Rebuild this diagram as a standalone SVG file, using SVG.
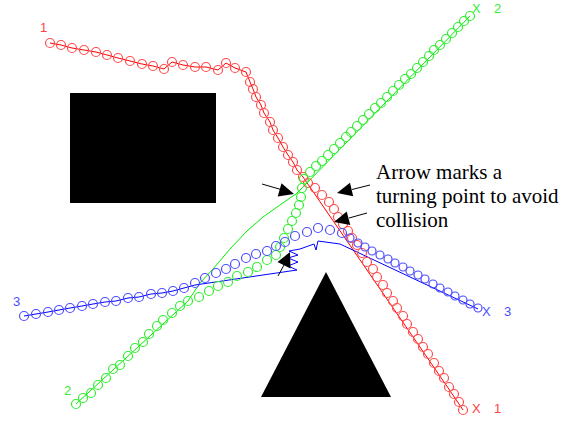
<svg xmlns="http://www.w3.org/2000/svg" width="588" height="421" viewBox="0 0 588 421">
<style>
.bg{fill:#fff}
.obs{fill:#000}
.tr{fill:none;stroke-width:1}
.rl{stroke:#ff0000}
.gl{stroke:#00ee00}
.bl{stroke:#0000ff}
.rc circle{fill:none;stroke:#ff4d4d;stroke-width:1.2}
.gc circle{fill:none;stroke:#33ee33;stroke-width:1.2}
.bc circle{fill:none;stroke:#4d4dff;stroke-width:1.2}
.lab{font-family:"Liberation Sans",Arial,sans-serif;font-size:13px}
.note{font-family:"Liberation Serif","Times New Roman",serif;font-size:21px;fill:#000}
.arr line{stroke:#000;stroke-width:1}
.arr polygon{fill:#000}
</style>
<rect class="bg" x="0" y="0" width="588" height="421"/>
<g id="obstacles">
<rect id="rect-obstacle" class="obs" x="70" y="93" width="146" height="110"/>
<polygon id="triangle-obstacle" class="obs" points="326,272 391,397 261,397"/>
</g>
<g id="connectors">
<polyline class="tr rl" points="50,43 61,45 72,48 84,50 96,52 107,55 118,58 130,61 142,64 153,66 164,69 172,62 183,65 195,67 206,67 218,70 226,63 235,68 246,72 250,82 253,89 256,97 261,105 264,113 270,122 273,130 278,138 283,147 288,155 293,162 297,170 303,177 455,398 463,410"/>
<polyline class="tr gl" points="76,404 188,301 200,283 213,269 230,249 247,231 263,217 280,205 290,198 296,194 304,186 470,16"/>
<polyline class="tr bl" points="24,316 36,314 48,312 59,310 70,308 82,306 93,304 105,302 116,301 128,298 139,297 151,294 162,293 173,291 184,288 195,285 297,270 288,266 298,262 288,258 298,255 289,251 300,249 314,244 316,250 318,241 340,244 357,252 478,309"/>
</g>
<g id="path1-circles" class="rc">
<circle cx="50" cy="43" r="4.5"/><circle cx="61" cy="45" r="4.5"/><circle cx="72" cy="48" r="4.5"/><circle cx="84" cy="50" r="4.5"/><circle cx="96" cy="52" r="4.5"/><circle cx="107" cy="55" r="4.5"/><circle cx="118" cy="58" r="4.5"/><circle cx="130" cy="61" r="4.5"/><circle cx="142" cy="64" r="4.5"/><circle cx="153" cy="66" r="4.5"/><circle cx="164" cy="69" r="4.5"/><circle cx="172" cy="62" r="4.5"/><circle cx="183" cy="65" r="4.5"/><circle cx="195" cy="67" r="4.5"/><circle cx="206" cy="67" r="4.5"/><circle cx="218" cy="70" r="4.5"/><circle cx="226" cy="63" r="4.5"/><circle cx="235" cy="68" r="4.5"/><circle cx="246" cy="72" r="4.5"/><circle cx="250" cy="82" r="4.5"/><circle cx="253" cy="89" r="4.5"/><circle cx="256" cy="97" r="4.5"/><circle cx="261" cy="105" r="4.5"/><circle cx="264" cy="113" r="4.5"/><circle cx="270" cy="122" r="4.5"/><circle cx="273" cy="130" r="4.5"/><circle cx="278" cy="138" r="4.5"/><circle cx="283" cy="147" r="4.5"/><circle cx="288" cy="155" r="4.5"/><circle cx="293" cy="162" r="4.5"/><circle cx="297" cy="170" r="4.5"/><circle cx="303" cy="177" r="4.5"/><circle cx="308" cy="183" r="4.5"/><circle cx="315" cy="188" r="4.5"/><circle cx="322" cy="195" r="4.5"/><circle cx="329" cy="202" r="4.5"/><circle cx="334" cy="209" r="4.5"/><circle cx="338" cy="217" r="4.5"/><circle cx="343" cy="224" r="4.5"/><circle cx="348" cy="231" r="4.5"/><circle cx="352" cy="238" r="4.5"/><circle cx="357" cy="245" r="4.5"/><circle cx="362" cy="253" r="4.5"/><circle cx="367" cy="262" r="4.5"/><circle cx="373" cy="269" r="4.5"/><circle cx="377" cy="277" r="4.5"/><circle cx="383" cy="285" r="4.5"/><circle cx="387" cy="293" r="4.5"/><circle cx="393" cy="301" r="4.5"/><circle cx="397" cy="308" r="4.5"/><circle cx="403" cy="316" r="4.5"/><circle cx="407" cy="324" r="4.5"/><circle cx="413" cy="332" r="4.5"/><circle cx="418" cy="339" r="4.5"/><circle cx="423" cy="347" r="4.5"/><circle cx="428" cy="354" r="4.5"/><circle cx="434" cy="363" r="4.5"/><circle cx="439" cy="371" r="4.5"/><circle cx="444" cy="378" r="4.5"/><circle cx="449" cy="387" r="4.5"/><circle cx="454" cy="394" r="4.5"/><circle cx="459" cy="402" r="4.5"/><circle cx="463" cy="410" r="4.5"/>
</g>
<g id="path2-circles" class="gc">
<circle cx="76" cy="404" r="4.5"/><circle cx="83" cy="398" r="4.5"/><circle cx="91" cy="393" r="4.5"/><circle cx="98" cy="385" r="4.5"/><circle cx="106" cy="378" r="4.5"/><circle cx="113" cy="369" r="4.5"/><circle cx="120" cy="365" r="4.5"/><circle cx="128" cy="356" r="4.5"/><circle cx="135" cy="348" r="4.5"/><circle cx="143" cy="342" r="4.5"/><circle cx="149" cy="334" r="4.5"/><circle cx="157" cy="326" r="4.5"/><circle cx="163" cy="320" r="4.5"/><circle cx="172" cy="313" r="4.5"/><circle cx="180" cy="306" r="4.5"/><circle cx="188" cy="301" r="4.5"/><circle cx="199" cy="297" r="4.5"/><circle cx="209" cy="291" r="4.5"/><circle cx="218" cy="286" r="4.5"/><circle cx="228" cy="282" r="4.5"/><circle cx="237" cy="276" r="4.5"/><circle cx="248" cy="272" r="4.5"/><circle cx="257" cy="267" r="4.5"/><circle cx="267" cy="260" r="4.5"/><circle cx="276" cy="255" r="4.5"/><circle cx="280" cy="247" r="4.5"/><circle cx="284" cy="238" r="4.5"/><circle cx="288" cy="229" r="4.5"/><circle cx="292" cy="221" r="4.5"/><circle cx="296" cy="213" r="4.5"/><circle cx="299" cy="205" r="4.5"/><circle cx="301" cy="197" r="4.5"/><circle cx="302" cy="188" r="4.5"/><circle cx="304" cy="179" r="4.5"/><circle cx="310" cy="172" r="4.5"/><circle cx="316" cy="166" r="4.5"/><circle cx="322" cy="161" r="4.5"/><circle cx="328" cy="155" r="4.5"/><circle cx="334" cy="149" r="4.5"/><circle cx="340" cy="143" r="4.5"/><circle cx="346" cy="137" r="4.5"/><circle cx="351" cy="132" r="4.5"/><circle cx="357" cy="126" r="4.5"/><circle cx="363" cy="120" r="4.5"/><circle cx="369" cy="114" r="4.5"/><circle cx="375" cy="108" r="4.5"/><circle cx="381" cy="103" r="4.5"/><circle cx="387" cy="97" r="4.5"/><circle cx="393" cy="91" r="4.5"/><circle cx="399" cy="85" r="4.5"/><circle cx="405" cy="79" r="4.5"/><circle cx="411" cy="74" r="4.5"/><circle cx="417" cy="68" r="4.5"/><circle cx="423" cy="62" r="4.5"/><circle cx="429" cy="56" r="4.5"/><circle cx="434" cy="50" r="4.5"/><circle cx="440" cy="45" r="4.5"/><circle cx="446" cy="39" r="4.5"/><circle cx="452" cy="33" r="4.5"/><circle cx="458" cy="27" r="4.5"/><circle cx="464" cy="21" r="4.5"/><circle cx="470" cy="16" r="4.5"/>
</g>
<g id="path3-circles" class="bc">
<circle cx="24" cy="316" r="4.5"/><circle cx="36" cy="314" r="4.5"/><circle cx="48" cy="312" r="4.5"/><circle cx="59" cy="310" r="4.5"/><circle cx="70" cy="308" r="4.5"/><circle cx="82" cy="306" r="4.5"/><circle cx="93" cy="304" r="4.5"/><circle cx="105" cy="302" r="4.5"/><circle cx="116" cy="301" r="4.5"/><circle cx="128" cy="298" r="4.5"/><circle cx="139" cy="297" r="4.5"/><circle cx="151" cy="294" r="4.5"/><circle cx="162" cy="293" r="4.5"/><circle cx="173" cy="291" r="4.5"/><circle cx="184" cy="288" r="4.5"/><circle cx="195" cy="283" r="4.5"/><circle cx="205" cy="278" r="4.5"/><circle cx="216" cy="273" r="4.5"/><circle cx="226" cy="269" r="4.5"/><circle cx="235" cy="264" r="4.5"/><circle cx="246" cy="258" r="4.5"/><circle cx="256" cy="254" r="4.5"/><circle cx="267" cy="251" r="4.5"/><circle cx="276" cy="246" r="4.5"/><circle cx="285" cy="242" r="4.5"/><circle cx="295" cy="236" r="4.5"/><circle cx="307" cy="232" r="4.5"/><circle cx="318" cy="228" r="4.5"/><circle cx="330" cy="230" r="4.5"/><circle cx="342" cy="233" r="4.5"/><circle cx="350" cy="238" r="4"/><circle cx="358" cy="243" r="4"/><circle cx="365" cy="247" r="4"/><circle cx="372" cy="251" r="4"/><circle cx="380" cy="255" r="4"/><circle cx="388" cy="259" r="4"/><circle cx="395" cy="263" r="4"/><circle cx="403" cy="267" r="4"/><circle cx="410" cy="271" r="4"/><circle cx="418" cy="275" r="4"/><circle cx="425" cy="279" r="4"/><circle cx="433" cy="284" r="4"/><circle cx="440" cy="288" r="4"/><circle cx="448" cy="292" r="4"/><circle cx="455" cy="296" r="4"/><circle cx="463" cy="300" r="4"/><circle cx="470" cy="304" r="4"/><circle cx="478" cy="308" r="4"/>
</g>
<g id="labels" class="lab">
<text x="40" y="32" fill="#ff4040">1</text>
<text x="472" y="413" fill="#ff4040">X</text><text x="494" y="413" fill="#ff4040">1</text>
<text x="64" y="395" fill="#33ee33">2</text>
<text x="472" y="13" fill="#33ee33">X</text><text x="494" y="13" fill="#33ee33">2</text>
<text x="13" y="306" fill="#4d4dff">3</text>
<text x="482" y="316" fill="#4d4dff">X</text><text x="504" y="316" fill="#4d4dff">3</text>
</g>
<g id="note">
<text class="note" x="376" y="179">Arrow marks a</text>
<text class="note" x="376" y="203">turning point to avoid</text>
<text class="note" x="376" y="227">collision</text>
</g>
<g id="arrows" class="arr">
<line x1="262" y1="184" x2="281" y2="189.5"/>
<polygon points="294,194 281.5,183.2 277.7,196.6"/>
<line x1="370" y1="185" x2="352" y2="189.5"/>
<polygon points="337,193 350,182.7 353.2,196.3"/>
<line x1="367" y1="213" x2="349" y2="218"/>
<polygon points="334,222 346.7,211.4 350.3,224.9"/>
<line x1="278" y1="276" x2="284" y2="265"/>
<polygon points="290,252 290.5,268.5 277.5,262"/>
</g>
</svg>
